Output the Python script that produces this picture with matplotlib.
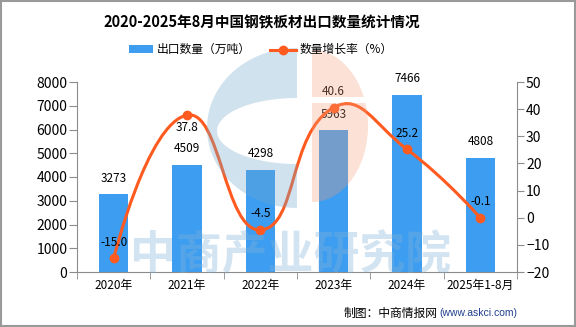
import numpy as np
import matplotlib
matplotlib.use("Agg")
import matplotlib.pyplot as plt
from matplotlib.path import Path
from matplotlib.patches import PathPatch, Rectangle, Polygon

plt.rcParams["font.family"] = ["Noto Sans CJK SC", "DejaVu Sans"]

# data
categories = ["2020年", "2021年", "2022年", "2023年", "2024年", "2025年1-8月"]
export_volume = [3273, 4509, 4298, 5963, 7466, 4808]   # 万吨
growth_rate = [-15.0, 37.8, -4.5, 40.6, 25.2, -0.1]     # %

BAR_COLOUR = "#3d9df0"
LINE_COLOUR = "#ff5a1f"
AXIS_COLOUR = "#8c8c8c"

FIG_W, FIG_H = 576, 327
AX_L, AX_R, AX_T, AX_B = 77, 517, 82, 272


def smooth_path(xs, ys, sx, sy, smooth=0.5):
    """Bezier path through the points, echarts style smoothing (pixel space)."""
    pts = np.column_stack([np.asarray(xs) * sx, np.asarray(ys) * sy]).astype(float)
    n = len(pts)
    cp_in, cp_out = [], []
    for i in range(n):
        p = pts[i]
        if i == 0 or i == n - 1:
            cp_in.append(p)
            cp_out.append(p)
            continue
        prev, nxt = pts[i - 1], pts[i + 1]
        v = nxt - prev
        d0 = np.hypot(*(p - prev))
        d1 = np.hypot(*(nxt - p))
        s = d0 + d1
        cp_in.append(p - v * smooth * d0 / s)
        cp_out.append(p + v * smooth * d1 / s)
    verts = [pts[0]]
    codes = [Path.MOVETO]
    for i in range(n - 1):
        verts += [cp_out[i], cp_in[i + 1], pts[i + 1]]
        codes += [Path.CURVE4] * 3
    verts = np.array(verts) / np.array([sx, sy])
    return Path(verts, codes)


def arc(cx, cy, rx, ry, a0, a1, n=60):
    t = np.radians(np.linspace(a0, a1, n))
    return np.column_stack([cx + rx * np.cos(t), cy - ry * np.sin(t)])


fig = plt.figure(figsize=(5.76, 3.27), dpi=100)

ax = fig.add_axes([AX_L / FIG_W, 1 - AX_B / FIG_H,
                   (AX_R - AX_L) / FIG_W, (AX_B - AX_T) / FIG_H], zorder=1)
x = np.arange(len(categories))
ax.bar(x, export_volume, width=0.4, color=BAR_COLOUR, zorder=2)
for xi, v in zip(x, export_volume):
    ax.annotate(str(v), (xi, v), xytext=(0, 7), textcoords="offset points",
                ha="center", va="bottom", fontsize=8.5)

ax.set_xlim(-0.5, len(categories) - 0.5)
ax.set_ylim(0, 8000)
ax.set_yticks(range(0, 8001, 1000))
ax.set_xticks(x)
ax.set_xticklabels(categories, fontsize=8.5)
ax.set_xticks(np.arange(-0.5, len(categories), 1), minor=True)
ax.tick_params(axis="x", which="major", length=0, pad=5)
ax.tick_params(axis="x", which="minor", length=5, color=AXIS_COLOUR)
ax.tick_params(axis="y", labelsize=10, length=5.5, color=AXIS_COLOUR, pad=1.5)
for side in ("top", "right"):
    ax.spines[side].set_visible(False)
for side in ("left", "bottom"):
    ax.spines[side].set_color(AXIS_COLOUR)

ax2 = ax.twinx()
ax2.set_ylim(-20, 50)
ax2.set_yticks(range(-20, 51, 10))
ax2.tick_params(axis="y", labelsize=10, length=5, color=AXIS_COLOUR, pad=1.5)
for side in ("top", "left", "bottom"):
    ax2.spines[side].set_visible(False)
ax2.spines["right"].set_color(AXIS_COLOUR)
px_per_cat = (AX_R - AX_L) / len(categories)
px_per_pct = (AX_B - AX_T) / 70.0
ax2.add_patch(PathPatch(smooth_path(x, growth_rate, px_per_cat, px_per_pct),
                        fill=False, edgecolor=LINE_COLOUR, linewidth=2.2, zorder=3))
ax2.plot(x, growth_rate, "o", color=LINE_COLOUR, markersize=6, zorder=4)
for i, (xi, v) in enumerate(zip(x, growth_rate)):
    # the 2021 label sits just under its point in the reference
    dy = -4 if i == 1 else 7
    ax2.annotate("%.1f" % v, (xi, v), xytext=(0, dy), textcoords="offset points",
                 ha="center", va="top" if i == 1 else "bottom", fontsize=8.5, zorder=5)

# overlay in pixel coordinates: watermark, legend, title, source, frame
ov = fig.add_axes([0, 0, 1, 1], zorder=7)
ov.set_xlim(0, FIG_W)
ov.set_ylim(FIG_H, 0)
ov.axis("off")

blue_wm = (0.45, 0.66, 0.80)
orange_wm = (0.96, 0.62, 0.48)
# blue "C": left half ellipse with an open elliptical hole
outer = arc(297, 128, 90, 80, 90, 270)
inner = arc(297, 131, 80, 33, 270, 90)
c_shape = np.vstack([outer, inner])
ov.add_patch(Polygon(c_shape, closed=True, color=blue_wm, alpha=0.33, lw=0))
# orange half disc cut by a white band
ocx, ocy, orx, ory = 312, 126, 56, 76
band_top, band_bot = 97, 103
a_top = np.degrees(np.arcsin((ocy - band_top) / ory))
a_bot = np.degrees(np.arcsin((ocy - band_bot) / ory))
top_piece = np.vstack([[[ocx, ocy - ory]], arc(ocx, ocy, orx, ory, 90, a_top), [[ocx, band_top]]])
bot_piece = np.vstack([[[ocx, band_bot]], arc(ocx, ocy, orx, ory, a_bot, -90)])
ov.add_patch(Polygon(top_piece, closed=True, color=orange_wm, alpha=0.3, lw=0))
ov.add_patch(Polygon(bot_piece, closed=True, color=orange_wm, alpha=0.3, lw=0))

ov.text(291, 256, "中商产业研究院", ha="center", va="center", fontsize=33,
        fontweight="bold", color=(0.50, 0.70, 0.85), alpha=0.35)

ov.text(262, 22, "2020-2025年8月中国钢铁板材出口数量统计情况",
        ha="center", va="center", fontsize=10.5, fontweight="bold")

ov.add_patch(Rectangle((129, 45), 24, 8, color=BAR_COLOUR, lw=0))
ov.text(157, 49.5, "出口数量（万吨）", va="center", fontsize=8.5)
ov.plot([270, 296], [49.5, 49.5], color=LINE_COLOUR, linewidth=2.2)
ov.plot([283], [49.5], "o", color=LINE_COLOUR, markersize=6)
ov.text(300, 49.5, "数量增长率（%）", va="center", fontsize=8.5)

ov.text(438, 313, "制图：中商情报网", ha="right", va="center", fontsize=8.5)
ov.text(439, 313, "(www.askci.com)", ha="left", va="center", fontsize=7.5,
        color="#1f3f8f", family=["Liberation Sans", "DejaVu Sans"])
ov.add_patch(Rectangle((1, 1), FIG_W - 2, FIG_H - 2, fill=False,
                       edgecolor="#999999", linewidth=1.5))

fig.savefig("out.png", dpi=100)
